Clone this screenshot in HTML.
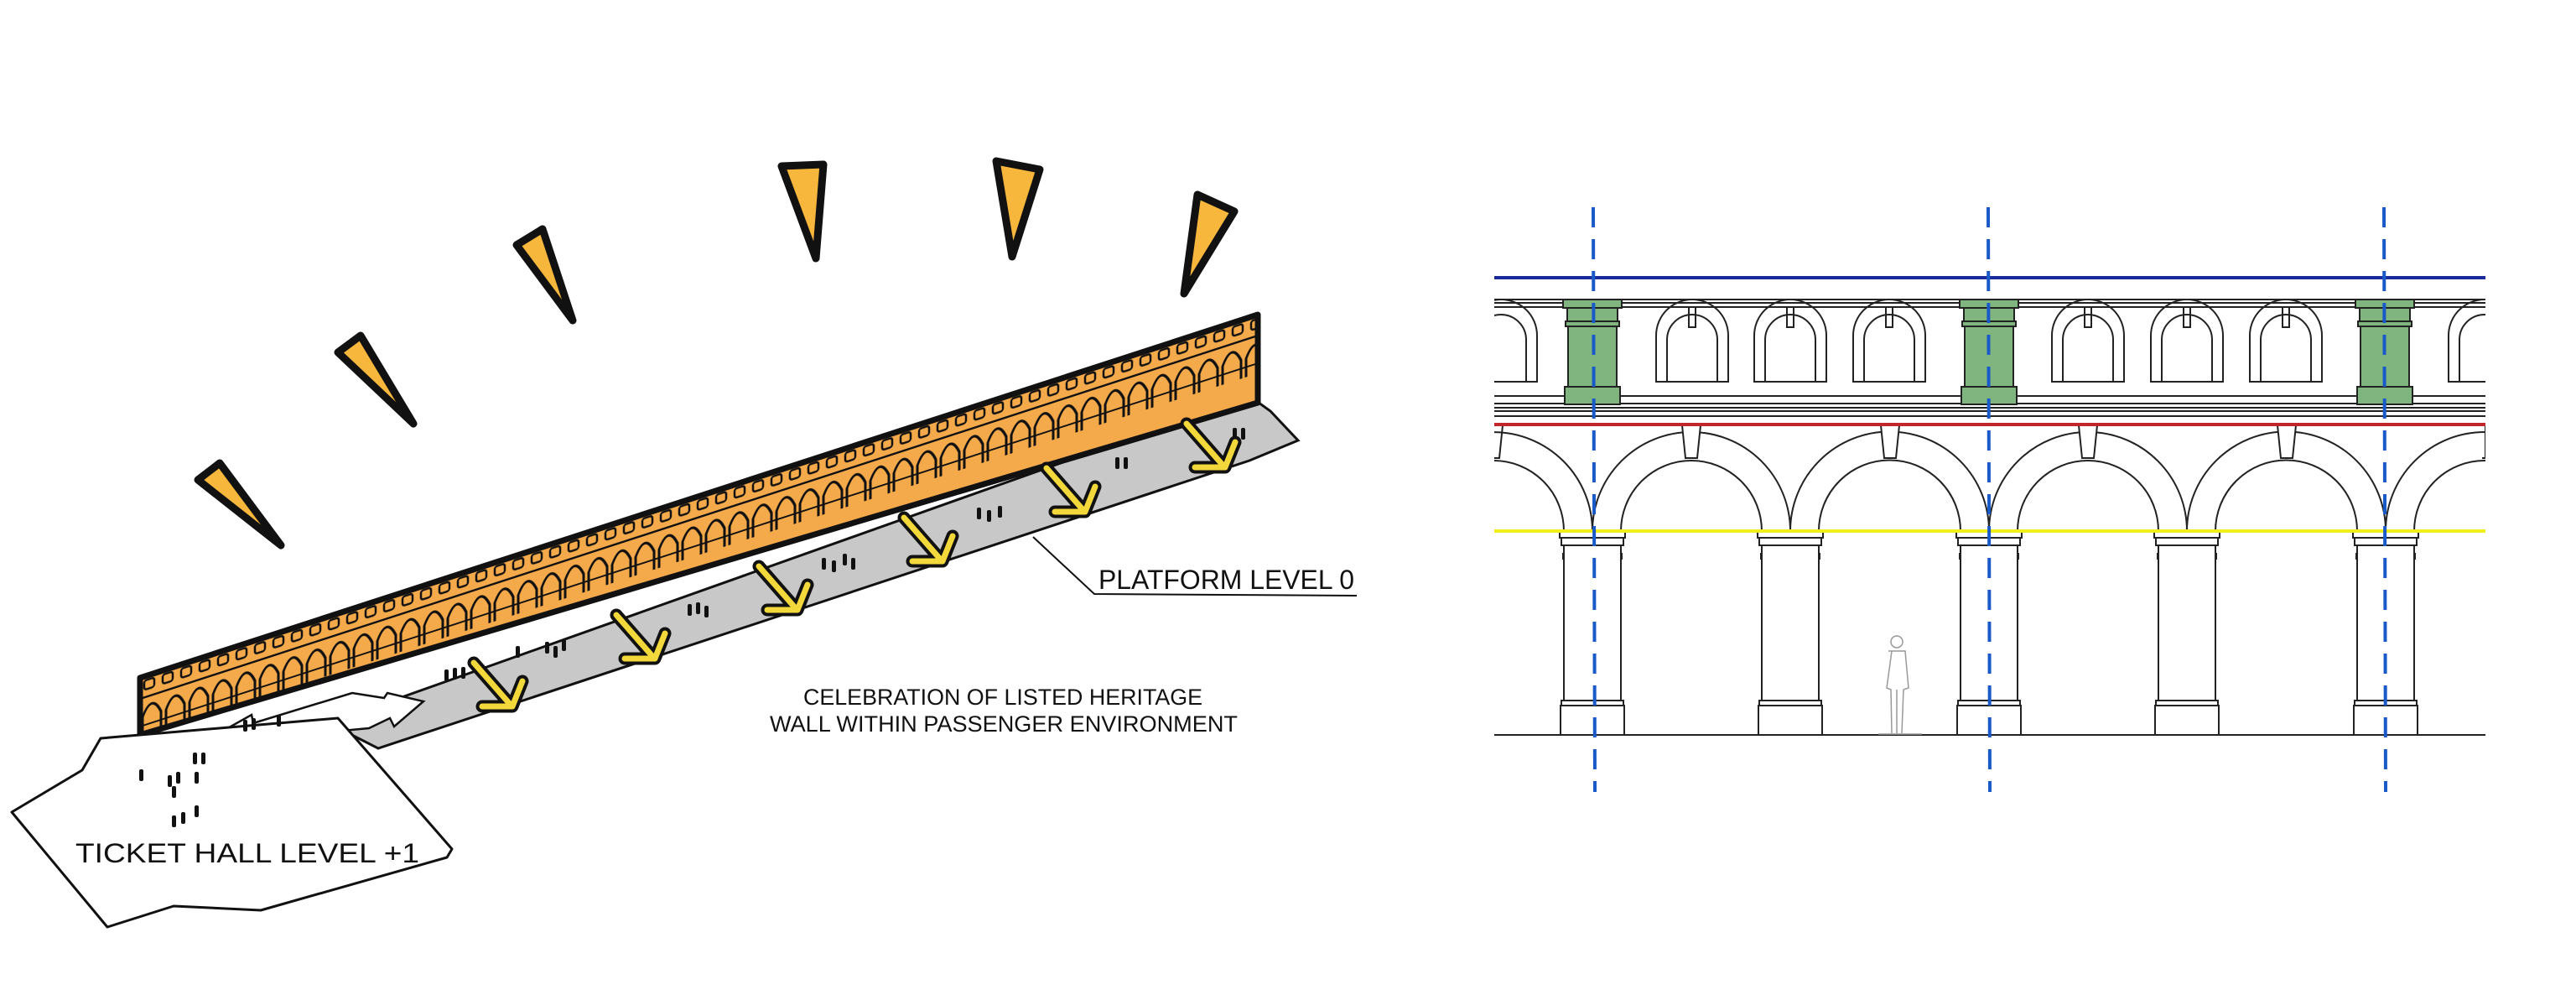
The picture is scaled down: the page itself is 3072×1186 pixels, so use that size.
<!DOCTYPE html>
<html><head><meta charset="utf-8"><style>
html,body{margin:0;padding:0;background:#fff;}
svg{display:block;}
text{font-family:"Liberation Sans",sans-serif;}
</style></head><body>
<svg width="3072" height="1186" viewBox="0 0 3072 1186" xmlns="http://www.w3.org/2000/svg">
<defs>
  <pattern id="sq" patternUnits="userSpaceOnUse" width="22" height="100" x="0" y="0">
    <rect x="5" y="5" width="12" height="11" rx="3" fill="none" stroke="#111" stroke-width="2.5"/>
  </pattern>
  <pattern id="arch" patternUnits="userSpaceOnUse" width="28" height="200" x="0" y="0">
    <path d="M3 90 L3 48 Q14 22 25 48 L25 90" fill="none" stroke="#111" stroke-width="3"/>
  </pattern>
  <clipPath id="rc"><rect x="1782" y="300" width="1182" height="600"/></clipPath>
</defs>

<!-- spikes -->
<g fill="#f6b73c" stroke="#111" stroke-width="9" stroke-linejoin="round">
  <polygon points="236,572 262,552 335,650"/>
  <polygon points="403,420 430,400 493,505"/>
  <polygon points="616,292 647,273 683,382"/>
  <polygon points="932,198 982,196 973,308"/>
  <polygon points="1188,192 1240,202 1207,306"/>
  <polygon points="1428,232 1472,252 1412,350"/>
</g>

<!-- gray platform -->
<polygon points="392,862 1490,472 1515,490 1548,525 1490,549 451,892" fill="#c8c8c8" stroke="#111" stroke-width="3"/>

<!-- wall -->
<polygon points="167,808 1500,375 1500,480 167,876" fill="#f4a94a" stroke="#111" stroke-width="7" stroke-linejoin="round"/>
<g transform="translate(167,808) matrix(1,-0.3248,0,1,0,0)">
  <rect x="0" y="0" width="1333" height="22" fill="url(#sq)"/>
  <line x1="0" y1="25" x2="1333" y2="25" stroke="#111" stroke-width="2.5"/>
  <rect x="0" y="0" width="1333" height="70" fill="url(#arch)"/>
  <line x1="0" y1="58" x2="1333" y2="58" stroke="#111" stroke-width="2"/>
</g>

<!-- people dots -->
<g fill="#111">
  <rect x="530" y="798" width="5" height="14" rx="2"/><rect x="540" y="796" width="5" height="14" rx="2"/><rect x="550" y="795" width="5" height="14" rx="2"/>
  <rect x="615" y="770" width="5" height="14" rx="2"/><rect x="650" y="765" width="5" height="14" rx="2"/><rect x="660" y="770" width="5" height="14" rx="2"/><rect x="670" y="762" width="5" height="14" rx="2"/>
  <rect x="820" y="720" width="5" height="14" rx="2"/><rect x="830" y="718" width="5" height="14" rx="2"/><rect x="840" y="722" width="5" height="14" rx="2"/>
  <rect x="980" y="665" width="5" height="14" rx="2"/><rect x="992" y="668" width="5" height="14" rx="2"/><rect x="1005" y="660" width="5" height="14" rx="2"/><rect x="1015" y="665" width="5" height="14" rx="2"/>
  <rect x="1165" y="605" width="5" height="14" rx="2"/><rect x="1177" y="608" width="5" height="14" rx="2"/><rect x="1190" y="603" width="5" height="14" rx="2"/>
  <rect x="1330" y="545" width="5" height="14" rx="2"/><rect x="1340" y="545" width="5" height="14" rx="2"/>
  <rect x="1470" y="510" width="5" height="14" rx="2"/><rect x="1480" y="510" width="5" height="14" rx="2"/>
</g>

<!-- yellow arrows -->
<g stroke-linejoin="round" stroke-linecap="round" fill="none">
  <g transform="translate(565,790)"><path d="M0 0 L42 48 M10 52 L46 52 L58 22" stroke="#111" stroke-width="15"/><path d="M0 0 L42 48 M10 52 L46 52 L58 22" stroke="#f2d83a" stroke-width="7"/></g>
  <g transform="translate(735,733)"><path d="M0 0 L42 48 M10 52 L46 52 L58 22" stroke="#111" stroke-width="15"/><path d="M0 0 L42 48 M10 52 L46 52 L58 22" stroke="#f2d83a" stroke-width="7"/></g>
  <g transform="translate(905,675)"><path d="M0 0 L42 48 M10 52 L46 52 L58 22" stroke="#111" stroke-width="15"/><path d="M0 0 L42 48 M10 52 L46 52 L58 22" stroke="#f2d83a" stroke-width="7"/></g>
  <g transform="translate(1078,617)"><path d="M0 0 L42 48 M10 52 L46 52 L58 22" stroke="#111" stroke-width="15"/><path d="M0 0 L42 48 M10 52 L46 52 L58 22" stroke="#f2d83a" stroke-width="7"/></g>
  <g transform="translate(1248,558)"><path d="M0 0 L42 48 M10 52 L46 52 L58 22" stroke="#111" stroke-width="15"/><path d="M0 0 L42 48 M10 52 L46 52 L58 22" stroke="#f2d83a" stroke-width="7"/></g>
  <g transform="translate(1415,505)"><path d="M0 0 L42 48 M10 52 L46 52 L58 22" stroke="#111" stroke-width="15"/><path d="M0 0 L42 48 M10 52 L46 52 L58 22" stroke="#f2d83a" stroke-width="7"/></g>
</g>

<!-- white double arrow -->
<polygon points="250,880 300,852 302,862 420,826 458,832 462,826 505,836 470,866 465,856 440,868 310,880 278,890" fill="#fff" stroke="#111" stroke-width="2.5"/>

<!-- ticket hall -->
<polygon points="14,968 98,918 120,880 403,856 539,1012 533,1022 311,1085 207,1080 128,1105" fill="#fff" stroke="#111" stroke-width="3" stroke-linejoin="round"/>
<g fill="#111">
  <rect x="166" y="917" width="5" height="14" rx="2"/><rect x="200" y="924" width="5" height="14" rx="2"/><rect x="230" y="897" width="5" height="14" rx="2"/><rect x="240" y="897" width="5" height="14" rx="2"/>
  <rect x="205" y="937" width="5" height="14" rx="2"/><rect x="210" y="920" width="5" height="14" rx="2"/><rect x="232" y="920" width="5" height="14" rx="2"/>
  <rect x="205" y="972" width="5" height="14" rx="2"/><rect x="216" y="968" width="5" height="14" rx="2"/><rect x="232" y="960" width="5" height="14" rx="2"/>
  <rect x="290" y="858" width="5" height="14" rx="2"/><rect x="300" y="856" width="5" height="14" rx="2"/><rect x="330" y="852" width="5" height="14" rx="2"/>
</g>
<text x="90" y="1028" font-size="32" fill="#111" textLength="410" lengthAdjust="spacingAndGlyphs">TICKET HALL  LEVEL +1</text>

<!-- platform label -->
<polyline points="1232,640 1305,708 1618,710" fill="none" stroke="#111" stroke-width="2"/>
<text x="1310" y="702" font-size="32" fill="#111" textLength="305" lengthAdjust="spacingAndGlyphs">PLATFORM  LEVEL 0</text>

<text x="958" y="840" font-size="27" fill="#111" textLength="476" lengthAdjust="spacingAndGlyphs">CELEBRATION OF LISTED HERITAGE</text>
<text x="918" y="872" font-size="27" fill="#111" textLength="558" lengthAdjust="spacingAndGlyphs">WALL WITHIN PASSENGER ENVIRONMENT</text>

<!-- ===== RIGHT ELEVATION ===== -->
<g clip-path="url(#rc)" stroke="#222" stroke-width="2" fill="none">
  <line x1="1782" y1="357" x2="2964" y2="357"/>
  <line x1="1782" y1="361" x2="2964" y2="361"/>
  <line x1="1782" y1="366" x2="2964" y2="366"/>
  <line x1="1782" y1="472" x2="2964" y2="472"/>
  <line x1="1782" y1="481" x2="2964" y2="481"/>
  <line x1="1782" y1="486" x2="2964" y2="486"/>
  <line x1="1782" y1="490" x2="2964" y2="490"/>
  <line x1="1782" y1="496" x2="2964" y2="496"/>
  <g>
    <path d="M1747 455 L1747 400 A43 43 0 0 1 1833 400 L1833 455 Z"/><path d="M1760 455 L1760 405 A30 30 0 0 1 1820 405 L1820 455"/>
    <path d="M1975 455 L1975 400 A43 43 0 0 1 2061 400 L2061 455 Z"/><path d="M1988 455 L1988 405 A30 30 0 0 1 2048 405 L2048 455"/><rect x="2014" y="366" width="8" height="24"/>
    <path d="M2092 455 L2092 400 A43 43 0 0 1 2178 400 L2178 455 Z"/><path d="M2105 455 L2105 405 A30 30 0 0 1 2165 405 L2165 455"/><rect x="2131" y="366" width="8" height="24"/>
    <path d="M2210 455 L2210 400 A43 43 0 0 1 2296 400 L2296 455 Z"/><path d="M2223 455 L2223 405 A30 30 0 0 1 2283 405 L2283 455"/><rect x="2249" y="366" width="8" height="24"/>
    <path d="M2447 455 L2447 400 A43 43 0 0 1 2533 400 L2533 455 Z"/><path d="M2460 455 L2460 405 A30 30 0 0 1 2520 405 L2520 455"/><rect x="2486" y="366" width="8" height="24"/>
    <path d="M2565 455 L2565 400 A43 43 0 0 1 2651 400 L2651 455 Z"/><path d="M2578 455 L2578 405 A30 30 0 0 1 2638 405 L2638 455"/><rect x="2604" y="366" width="8" height="24"/>
    <path d="M2683 455 L2683 400 A43 43 0 0 1 2769 400 L2769 455 Z"/><path d="M2696 455 L2696 405 A30 30 0 0 1 2756 405 L2756 455"/><rect x="2722" y="366" width="8" height="24"/>
    <path d="M2920 455 L2920 400 A43 43 0 0 1 3006 400 L3006 455 Z"/><path d="M2933 455 L2933 405 A30 30 0 0 1 2993 405 L2993 455"/>
  </g>
  <g fill="#80b57f">
    <rect x="1864" y="357" width="70" height="10"/><rect x="1869" y="367" width="60" height="16"/><rect x="1867" y="383" width="64" height="6"/><rect x="1870" y="389" width="58" height="72"/><rect x="1866" y="461" width="66" height="21"/>
    <rect x="2337" y="357" width="70" height="10"/><rect x="2342" y="367" width="60" height="16"/><rect x="2340" y="383" width="64" height="6"/><rect x="2343" y="389" width="58" height="72"/><rect x="2339" y="461" width="66" height="21"/>
    <rect x="2809" y="357" width="70" height="10"/><rect x="2814" y="367" width="60" height="16"/><rect x="2812" y="383" width="64" height="6"/><rect x="2815" y="389" width="58" height="72"/><rect x="2811" y="461" width="66" height="21"/>
  </g>
  <g>
    <path d="M1663 633 A118 118 0 0 1 1899 633"/><path d="M1697 633 A84 84 0 0 1 1865 633"/>
    <path d="M1899 633 A118 118 0 0 1 2135 633"/><path d="M1933 633 A84 84 0 0 1 2101 633"/><path d="M2006 507 L2028 507 L2024 546 L2010 546 Z" fill="#fff"/>
    <path d="M2135 633 A118 118 0 0 1 2372 633"/><path d="M2169 633 A84 84 0 0 1 2338 633"/><path d="M2243 507 L2265 507 L2261 546 L2247 546 Z" fill="#fff"/>
    <path d="M2372 633 A118 118 0 0 1 2608 633"/><path d="M2406 633 A84 84 0 0 1 2574 633"/><path d="M2479 507 L2501 507 L2497 546 L2483 546 Z" fill="#fff"/>
    <path d="M2608 633 A118 118 0 0 1 2845 633"/><path d="M2642 633 A84 84 0 0 1 2811 633"/><path d="M2716 507 L2738 507 L2734 546 L2720 546 Z" fill="#fff"/>
    <path d="M2845 633 A118 118 0 0 1 3081 633"/><path d="M2879 633 A84 84 0 0 1 3047 633"/>
    <path d="M1782 507 L1792 507 L1788 546 L1782 546"/><path d="M2958 507 L2964 507 L2964 546 L2960 546"/>
  </g>
  <g fill="#fff">
    <rect x="1860" y="633" width="78" height="8"/><rect x="1862" y="641" width="74" height="9"/><rect x="1864" y="660" width="70" height="6"/><rect x="1865" y="650" width="68" height="185"/><rect x="1862" y="835" width="74" height="6"/><rect x="1861" y="841" width="76" height="35"/>
    <rect x="2096" y="633" width="78" height="8"/><rect x="2098" y="641" width="74" height="9"/><rect x="2100" y="660" width="70" height="6"/><rect x="2101" y="650" width="68" height="185"/><rect x="2098" y="835" width="74" height="6"/><rect x="2097" y="841" width="76" height="35"/>
    <rect x="2333" y="633" width="78" height="8"/><rect x="2335" y="641" width="74" height="9"/><rect x="2337" y="660" width="70" height="6"/><rect x="2338" y="650" width="68" height="185"/><rect x="2335" y="835" width="74" height="6"/><rect x="2334" y="841" width="76" height="35"/>
    <rect x="2569" y="633" width="78" height="8"/><rect x="2571" y="641" width="74" height="9"/><rect x="2573" y="660" width="70" height="6"/><rect x="2574" y="650" width="68" height="185"/><rect x="2571" y="835" width="74" height="6"/><rect x="2570" y="841" width="76" height="35"/>
    <rect x="2806" y="633" width="78" height="8"/><rect x="2808" y="641" width="74" height="9"/><rect x="2810" y="660" width="70" height="6"/><rect x="2811" y="650" width="68" height="185"/><rect x="2808" y="835" width="74" height="6"/><rect x="2807" y="841" width="76" height="35"/>
  </g>
  <line x1="1782" y1="876" x2="2964" y2="876"/>
</g>
<g stroke="#999" stroke-width="1.5" fill="none">
  <circle cx="2262" cy="765" r="7"/>
  <path d="M2252 776 L2272 776 L2276 820 L2270 822 L2268 874 M2256 776 L2250 820 L2255 822 L2256 874 M2262 822 L2262 874"/>
  <line x1="2240" y1="875" x2="2292" y2="875"/>
</g>
<line x1="1782" y1="331" x2="2964" y2="331" stroke="#1a2a9a" stroke-width="4"/>
<line x1="1782" y1="506" x2="2964" y2="506" stroke="#c0262a" stroke-width="4"/>
<line x1="1782" y1="633" x2="2964" y2="633" stroke="#f2ee1a" stroke-width="4"/>
<g stroke="#1a5ac8" stroke-width="4" stroke-dasharray="24,14">
  <line x1="1900" y1="247" x2="1902" y2="944"/>
  <line x1="2371" y1="247" x2="2373" y2="944"/>
  <line x1="2843" y1="247" x2="2845" y2="944"/>
</g>
</svg>
</body></html>
